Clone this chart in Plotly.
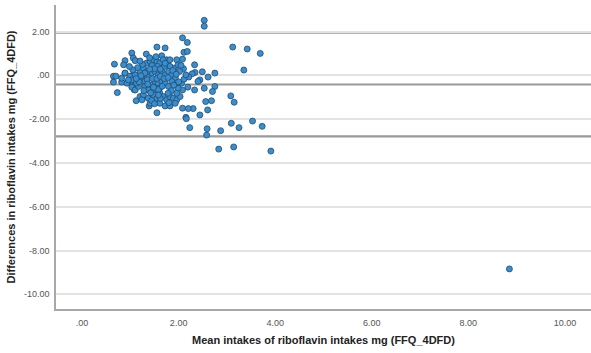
import plotly.graph_objects as go

# Bland-Altman: mean of two methods (x) vs difference between them (y)
mean_intake = [
    2.53, 2.53, 2.08, 2.18, 2.11, 2.18, 3.12, 3.42, 3.69, 3.35,
    1.55, 1.72, 1.03, 1.06, 1.10, 0.89, 0.86, 0.67, 1.33, 1.65,
    1.75, 1.96, 2.08, 2.33, 2.10, 1.91, 2.49, 2.75, 2.34, 2.28,
    2.21, 2.61, 2.44, 2.40, 2.75, 2.53, 2.70, 2.33, 2.19, 2.08,
    3.08, 3.15, 2.68, 2.56, 2.60, 2.30, 2.20, 2.08, 2.44, 2.15,
    2.16, 2.23, 2.59, 2.58, 2.87, 3.09, 3.25, 3.53, 3.73, 2.83,
    3.14, 3.91, 1.55, 1.39, 1.12, 0.73, 0.65, 0.65, 0.70, 0.89,
    0.82, 0.96, 1.03, 1.08, 1.08, 1.26, 8.85,
    0.89, 0.99, 1.03, 1.10, 1.20, 1.27, 1.34, 1.41, 1.48, 1.55,
    1.61, 1.68, 1.75, 1.82, 1.24, 1.30, 1.37, 1.44, 1.51, 1.58,
    1.65, 1.72, 1.79, 1.86, 1.93, 1.30, 1.37, 1.44, 1.51, 1.58,
    1.65, 1.72, 1.79, 1.86, 1.93, 1.99, 1.20, 1.27, 1.37, 1.48,
    1.55, 1.61, 1.68, 1.75, 1.82, 1.89, 1.96, 2.03, 1.61, 1.72,
    1.82, 1.93, 0.93, 1.03, 1.10, 1.17, 0.96, 0.82, 1.13, 1.35,
    1.56, 1.70, 1.82, 1.51, 1.61, 1.41, 1.24, 1.96, 2.06, 2.11,
    2.15, 2.02, 1.99,
    1.45, 1.50, 1.40, 1.30, 1.22, 1.35, 1.46, 1.55, 1.62, 1.70,
    1.78, 1.25, 1.15, 1.18, 1.28, 1.42, 1.58, 1.66, 1.85, 1.90,
    1.48, 1.36, 1.62, 1.88, 1.95, 1.05, 0.98, 1.12, 1.44, 1.62,
    1.78, 2.00, 1.53, 1.40, 1.20, 1.72, 1.80, 1.50, 2.05, 1.58,
]
difference = [
    2.51, 2.24, 1.71, 1.50, 1.05, 1.09, 1.29, 1.20, 1.00, 0.24,
    1.29, 1.25, 1.02, 0.79, 0.67, 0.67, 0.48, 0.51, 0.97, 0.89,
    0.71, 0.71, 0.74, 0.48, 0.30, 0.33, 0.16, 0.10, 0.13, 0.07,
    -0.08, -0.08, -0.21, -0.28, -0.51, -0.59, -0.74, -0.67, -0.54, -0.67,
    -0.94, -1.23, -1.16, -1.20, -1.58, -1.52, -1.52, -1.50, -1.81, -1.92,
    -1.98, -2.39, -2.44, -2.73, -2.53, -2.19, -2.39, -2.09, -2.33, -3.37,
    -3.27, -3.46, -1.71, -1.40, -1.16, -0.79, -0.31, -0.04, -0.04, 0.10,
    -0.31, -0.31, -0.02, -0.48, -0.66, -0.97, -8.84,
    0.10, -0.05, -0.21, 0.02, 0.18, 0.33, 0.56, 0.63, 0.71, 0.63,
    0.56, 0.71, 0.48, 0.41, -0.13, -0.28, -0.05, 0.10, 0.18, 0.02,
    0.18, 0.02, 0.18, 0.02, -0.13, -0.51, -0.67, -0.44, -0.28, -0.36,
    -0.28, -0.36, -0.51, -0.28, -0.44, -0.59, -0.97, -0.89, -1.05, -0.89,
    -1.05, -0.82, -0.97, -1.12, -0.97, -1.05, -1.12, -0.97, -1.28, -1.40,
    -1.40, -1.28, -0.36, -0.54, -0.67, -0.51, -0.21, -0.13, -0.36, 0.18,
    0.41, 0.41, 0.71, -0.63, -0.59, -1.28, -1.12, -0.82, -0.36, -0.18,
    0.02, 0.18, 0.48,
    0.45, 0.30, 0.28, 0.10, -0.02, -0.20, -0.15, -0.15, -0.05, -0.15,
    -0.10, 0.50, 0.35, -0.30, -0.70, -0.80, -0.65, -0.50, -0.70, -0.45,
    -0.55, -0.40, 0.28, 0.22, 0.05, 0.25, 0.40, -0.15, -1.15, -1.05,
    -0.82, -0.30, 0.85, 0.80, 0.65, 0.55, -1.25, -1.30, 0.45, -0.90,
]

# Mean difference and 95% limits of agreement
mean_diff = -0.42
upper_loa = 1.95
lower_loa = -2.79

x_ticks = [0, 2, 4, 6, 8, 10]
x_tick_text = [".00", "2.00", "4.00", "6.00", "8.00", "10.00"]
y_ticks = [2, 0, -2, -4, -6, -8, -10]
y_tick_text = ["2.00", ".00", "-2.00", "-4.00", "-6.00", "-8.00", "-10.00"]

fig = go.Figure()

fig.add_trace(go.Scatter(
    x=mean_intake,
    y=difference,
    mode="markers",
    marker=dict(size=6, color="#3590d3",
                line=dict(color="#2a4866", width=0.8)),
    showlegend=False,
    hoverinfo="x+y",
))

for level in (upper_loa, mean_diff, lower_loa):
    fig.add_shape(type="line", xref="paper", yref="y",
                  x0=0, x1=1, y0=level, y1=level,
                  line=dict(color="#9a9a9a", width=2.2), layer="below")

axis_font = dict(family="Liberation Sans, Arial, sans-serif", size=9, color="#555")
title_font = dict(family="Liberation Sans, Arial, sans-serif", size=11, color="#222")

fig.update_layout(
    width=591, height=353,
    margin=dict(l=56, r=0, t=5, b=44),
    paper_bgcolor="white",
    plot_bgcolor="white",
    xaxis=dict(
        range=[-0.54, 10.54],
        tickvals=x_ticks, ticktext=x_tick_text,
        tickfont=axis_font,
        showgrid=False, zeroline=False,
        showline=True, linecolor="#a8a8a8", linewidth=1.5,
        ticks="", ticklabelstandoff=4,
        title=dict(text="<b>Mean intakes of riboflavin intakes mg (FFQ_4DFD)</b>",
                   font=title_font, standoff=10),
    ),
    yaxis=dict(
        range=[-10.67, 3.21],
        tickvals=y_ticks, ticktext=y_tick_text,
        tickfont=axis_font,
        showgrid=True, gridcolor="#e3e3e3", gridwidth=1.5,
        zeroline=False,
        showline=True, linecolor="#a8a8a8", linewidth=1.5,
        ticks="", ticklabelstandoff=3,
        title=dict(text="<b>Differences in riboflavin intakes mg (FFQ_4DFD)</b>",
                   font=title_font, standoff=6),
    ),
)

fig.write_html("out.html")
